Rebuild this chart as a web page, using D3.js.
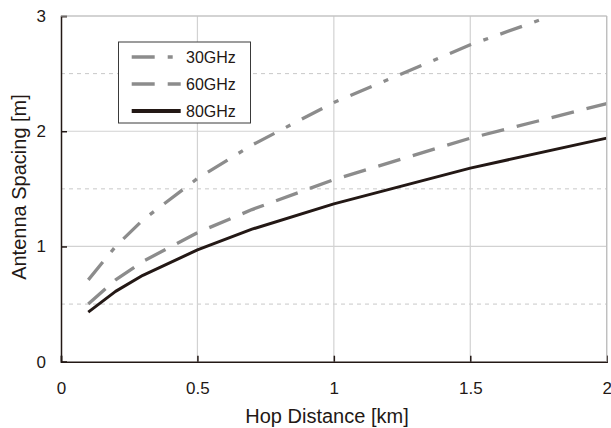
<!DOCTYPE html>
<html>
<head>
<meta charset="utf-8">
<script src="https://cdn.jsdelivr.net/npm/d3@7"></script>
<style>
  body { margin: 0; background: #fff; }
  text { font-family: "Liberation Sans", Arial, sans-serif; fill: #231815; }
</style>
</head>
<body>
<div id="output"></div>
<script>
var w = 611;
var h = 428;
var margin = { top: 16, right: 4, bottom: 66, left: 61 };

// hop distance [km] and antenna spacing [m]
var hop = [0.1, 0.2, 0.3, 0.5, 0.7, 1.0, 1.5, 2.0];
var hop30 = [0.1, 0.2, 0.3, 0.5, 0.7, 1.0, 1.5, 1.76];
var ghz30 = [0.71, 1.00, 1.23, 1.59, 1.88, 2.25, 2.75, 2.97];
var ghz60 = [0.50, 0.71, 0.87, 1.12, 1.32, 1.58, 1.94, 2.24];
var ghz80 = [0.43, 0.61, 0.75, 0.97, 1.15, 1.37, 1.68, 1.94];
var seriesNames = ['30GHz', '60GHz', '80GHz'];
var xTicks = [0, 0.5, 1, 1.5, 2];
var yTicks = [0, 1, 2, 3];
var yHalf = [0.5, 1.5, 2.5];

var grey = '#8c8c8c';
var dark = '#231815';

var series = [
  { name: seriesNames[0], xs: hop30, ys: ghz30, color: grey, width: 3.3, dash: '23,13,5,13' },
  { name: seriesNames[1], xs: hop, ys: ghz60, color: grey, width: 3.3, dash: '23,13' },
  { name: seriesNames[2], xs: hop, ys: ghz80, color: dark, width: 3, dash: null }
];

var svg = d3.select('#output').append('svg')
  .attr('width', w)
  .attr('height', h);

var x = d3.scaleLinear().domain([0, 2]).range([margin.left, w - margin.right - 0.3]);
var y = d3.scaleLinear().domain([0, 3]).range([h - margin.bottom - 0.3, margin.top]);

// dashed half-unit grid
svg.selectAll('line.half')
  .data(yHalf)
  .enter().append('line')
  .attr('x1', x(0)).attr('x2', x(2))
  .attr('y1', function (d) { return y(d); })
  .attr('y2', function (d) { return y(d); })
  .attr('stroke', '#c8c8c8')
  .attr('stroke-width', 1)
  .attr('stroke-dasharray', '4,4');

// solid grid
svg.selectAll('line.hgrid')
  .data([1, 2, 3])
  .enter().append('line')
  .attr('x1', x(0)).attr('x2', x(2))
  .attr('y1', function (d) { return y(d); })
  .attr('y2', function (d) { return y(d); })
  .attr('stroke', '#d2d2d2')
  .attr('stroke-width', 1.2);

svg.selectAll('line.vgrid')
  .data([0.5, 1, 1.5, 2])
  .enter().append('line')
  .attr('x1', function (d) { return x(d); })
  .attr('x2', function (d) { return x(d); })
  .attr('y1', y(0)).attr('y2', y(3))
  .attr('stroke', '#d2d2d2')
  .attr('stroke-width', 1.2);

// series lines
var line = d3.line()
  .x(function (d) { return x(d[0]); })
  .y(function (d) { return y(d[1]); });

series.forEach(function (s) {
  svg.append('path')
    .datum(d3.zip(s.xs, s.ys))
    .attr('d', line)
    .attr('fill', 'none')
    .attr('stroke', s.color)
    .attr('stroke-width', s.width)
    .attr('stroke-dasharray', s.dash)
    .attr('stroke-linejoin', 'round');
});

// axes (ticks pointing inward)
svg.append('g')
  .attr('transform', 'translate(0,' + y(0) + ')')
  .call(d3.axisBottom(x).tickValues(xTicks).tickSize(-6).tickPadding(20).tickFormat(d3.format('')))
  .call(function (g) {
    g.select('.domain').attr('stroke', dark).attr('stroke-width', 1.5);
    g.selectAll('.tick line').attr('stroke', dark).attr('stroke-width', 1.5);
    g.selectAll('.tick text')
      .attr('font-size', 17)
      .attr('font-family', '"Liberation Sans", Arial, sans-serif')
      .attr('fill', dark);
  });

svg.append('g')
  .attr('transform', 'translate(' + x(0) + ',0)')
  .call(d3.axisLeft(y).tickValues(yTicks).tickSize(-6).tickPadding(15).tickFormat(d3.format('d')))
  .call(function (g) {
    g.select('.domain').attr('stroke', dark).attr('stroke-width', 1.5);
    g.selectAll('.tick line').attr('stroke', dark).attr('stroke-width', 1.5);
    g.selectAll('.tick text')
      .attr('font-size', 17)
      .attr('font-family', '"Liberation Sans", Arial, sans-serif')
      .attr('fill', dark);
  });

// top and right frame
svg.append('line')
  .attr('x1', x(0)).attr('x2', x(2)).attr('y1', y(3)).attr('y2', y(3))
  .attr('stroke', '#bdbdbd').attr('stroke-width', 1.2);
svg.append('line')
  .attr('x1', x(2)).attr('x2', x(2)).attr('y1', y(3)).attr('y2', y(0))
  .attr('stroke', '#bdbdbd').attr('stroke-width', 1.2);

// axis titles
svg.append('text')
  .attr('x', 327)
  .attr('y', 423)
  .attr('text-anchor', 'middle')
  .attr('font-size', 20)
  .text('Hop Distance [km]');

svg.append('text')
  .attr('transform', 'translate(26,187) rotate(-90)')
  .attr('text-anchor', 'middle')
  .attr('font-size', 20)
  .text('Antenna Spacing [m]');

// legend
var legend = svg.append('g');
legend.append('rect')
  .attr('x', 118.5).attr('y', 42)
  .attr('width', 132).attr('height', 81)
  .attr('fill', '#fff')
  .attr('stroke', '#3a3a3a')
  .attr('stroke-width', 1);

var rowY = [57, 84, 111];
series.forEach(function (s, i) {
  legend.append('line')
    .attr('x1', 131.7).attr('x2', 180.7)
    .attr('y1', rowY[i]).attr('y2', rowY[i])
    .attr('stroke', s.color)
    .attr('stroke-width', i === 2 ? 4 : 3.5)
    .attr('stroke-dasharray', s.dash);
  legend.append('text')
    .attr('x', 186)
    .attr('y', rowY[i] + 6)
    .attr('font-size', 16)
    .text(s.name);
});
</script>
</body>
</html>
